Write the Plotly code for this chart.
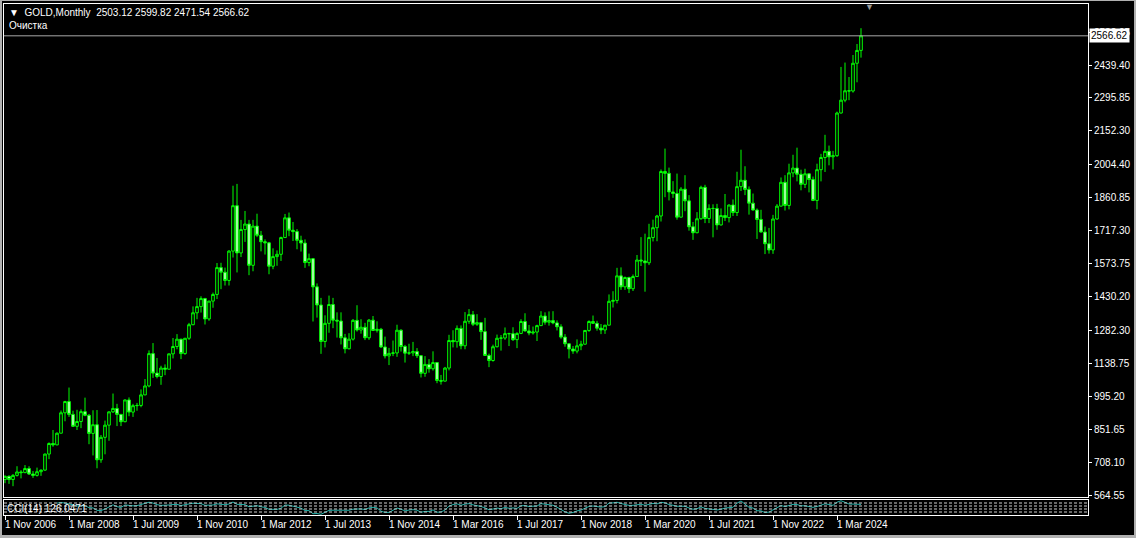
import pandas as pd
import numpy as np
import plotly.graph_objects as go

# ---------------- data (GOLD, Monthly, Nov 2006 .. Sep 2024) ----------------
start_month = "2006-11"
end_month = "2024-09"

opens = [632, 646,
 632, 650, 665, 662, 680, 656, 650, 666, 673, 743, 789, 783,
 834, 923, 972, 916, 864, 885, 928, 912, 833, 871, 718, 816,
 869, 927, 942, 916, 884, 979, 926, 954, 955, 1001, 1040, 1181,
 1096, 1081, 1118, 1113, 1180, 1212, 1244, 1181, 1248, 1307, 1359, 1386,
 1421, 1332, 1410, 1439, 1556, 1536, 1500, 1628, 1826, 1620, 1722, 1746,
 1566, 1737, 1697, 1669, 1664, 1562, 1604, 1614, 1687, 1773, 1719, 1713,
 1675, 1663, 1578, 1595, 1472, 1393, 1234, 1313, 1395, 1327, 1323, 1250,
 1202, 1244, 1326, 1284, 1296, 1250, 1327, 1282, 1287, 1210, 1171, 1182,
 1184, 1283, 1212, 1183, 1184, 1190, 1172, 1095, 1134, 1115, 1142, 1064,
 1061, 1118, 1238, 1233, 1291, 1215, 1322, 1351, 1309, 1316, 1277, 1173,
 1151, 1211, 1248, 1249, 1268, 1268, 1242, 1269, 1321, 1280, 1271, 1275,
 1303, 1345, 1318, 1325, 1315, 1298, 1253, 1224, 1201, 1192, 1215, 1222,
 1282, 1321, 1313, 1292, 1284, 1305, 1409, 1413, 1520, 1472, 1513, 1464,
 1517, 1589, 1585, 1577, 1687, 1730, 1781, 1975, 1967, 1886, 1879, 1776,
 1898, 1847, 1734, 1708, 1769, 1906, 1770, 1814, 1814, 1742, 1783, 1774,
 1829, 1796, 1909, 1937, 1897, 1837, 1807, 1766, 1711, 1660, 1633, 1768,
 1824, 1928, 1827, 1969, 1990, 1963, 1919, 1965, 1940, 1849, 1983, 2036,
 2063, 2039, 2044, 2230, 2286, 2327, 2326, 2447, 2503.12]

highs = [650, 650,
 656, 690, 673, 695, 690, 669, 684, 676, 745, 794, 848, 837,
 933, 975, 1033, 932, 936, 938, 989, 918, 934, 935, 826, 889,
 929, 1007, 962, 917, 981, 990, 962, 966, 1025, 1070, 1195, 1227,
 1162, 1128, 1134, 1181, 1249, 1266, 1245, 1249, 1315, 1387, 1424, 1431,
 1424, 1411, 1447, 1576, 1577, 1556, 1632, 1913, 1921, 1764, 1803, 1764,
 1764, 1791, 1716, 1679, 1668, 1640, 1631, 1691, 1790, 1796, 1755, 1724,
 1695, 1679, 1617, 1598, 1487, 1424, 1348, 1434, 1424, 1361, 1361, 1267,
 1270, 1332, 1392, 1331, 1315, 1332, 1345, 1322, 1293, 1255, 1206, 1238,
 1307, 1287, 1219, 1224, 1232, 1205, 1174, 1170, 1157, 1191, 1143, 1088,
 1123, 1263, 1283, 1304, 1304, 1362, 1375, 1367, 1353, 1318, 1337, 1181,
 1220, 1264, 1262, 1295, 1272, 1296, 1274, 1331, 1357, 1306, 1299, 1307,
 1366, 1361, 1365, 1366, 1326, 1309, 1266, 1225, 1214, 1243, 1237, 1284,
 1326, 1347, 1324, 1310, 1306, 1439, 1453, 1555, 1557, 1517, 1516, 1526,
 1611, 1689, 1704, 1747, 1765, 1786, 1984, 2075, 1992, 1933, 1966, 1907,
 1959, 1872, 1755, 1798, 1913, 1917, 1832, 1832, 1834, 1814, 1877, 1831,
 1853, 1974, 2070, 1998, 1910, 1879, 1814, 1808, 1735, 1729, 1786, 1833,
 1949, 1959, 2009, 2048, 2079, 1983, 1987, 1966, 1953, 2009, 2052, 2135,
 2088, 2065, 2236, 2431, 2450, 2387, 2483, 2531, 2599.82]

lows = [616, 613,
 603, 645, 637, 660, 652, 639, 645, 648, 670, 721, 775, 782,
 834, 886, 905, 862, 848, 856, 908, 786, 737, 681, 705, 742,
 801, 922, 865, 865, 882, 908, 905, 932, 947, 1000, 1034, 1075,
 1073, 1045, 1087, 1113, 1160, 1200, 1157, 1176, 1241, 1305, 1331, 1360,
 1308, 1324, 1381, 1419, 1462, 1478, 1478, 1600, 1535, 1602, 1668, 1523,
 1540, 1689, 1627, 1613, 1527, 1549, 1564, 1585, 1686, 1693, 1672, 1636,
 1626, 1555, 1562, 1321, 1338, 1180, 1208, 1272, 1292, 1251, 1221, 1182,
 1200, 1238, 1277, 1268, 1240, 1241, 1281, 1273, 1206, 1160, 1131, 1170,
 1167, 1190, 1142, 1175, 1170, 1162, 1077, 1080, 1098, 1107, 1052, 1046,
 1060, 1108, 1208, 1207, 1200, 1200, 1311, 1301, 1302, 1241, 1171, 1122,
 1146, 1208, 1194, 1241, 1214, 1236, 1205, 1266, 1277, 1261, 1264, 1236,
 1302, 1307, 1303, 1309, 1282, 1246, 1211, 1160, 1180, 1182, 1196, 1221,
 1276, 1310, 1281, 1266, 1267, 1305, 1382, 1400, 1459, 1459, 1445, 1454,
 1517, 1563, 1451, 1567, 1670, 1671, 1757, 1863, 1849, 1860, 1765, 1775,
 1802, 1717, 1677, 1706, 1765, 1750, 1750, 1688, 1721, 1740, 1759, 1753,
 1781, 1781, 1890, 1872, 1787, 1805, 1681, 1709, 1615, 1617, 1616, 1765,
 1823, 1805, 1810, 1950, 1932, 1893, 1903, 1884, 1846, 1810, 1932, 1973,
 2002, 1984, 2039, 2228, 2277, 2286, 2319, 2364, 2471.54]

closes = [646, 632,
 650, 665, 662, 680, 656, 650, 666, 673, 743, 789, 783, 834,
 923, 972, 916, 864, 885, 928, 912, 833, 871, 718, 816, 869,
 927, 942, 916, 884, 979, 926, 954, 955, 1001, 1040, 1181, 1096,
 1081, 1118, 1113, 1180, 1212, 1244, 1181, 1248, 1307, 1359, 1386, 1421,
 1332, 1410, 1439, 1556, 1536, 1500, 1628, 1826, 1620, 1722, 1746, 1566,
 1737, 1697, 1669, 1664, 1562, 1604, 1614, 1687, 1773, 1719, 1713, 1675,
 1663, 1578, 1595, 1472, 1393, 1234, 1313, 1395, 1327, 1323, 1250, 1202,
 1244, 1326, 1284, 1296, 1250, 1327, 1282, 1287, 1210, 1171, 1182, 1184,
 1283, 1212, 1183, 1184, 1190, 1172, 1095, 1134, 1115, 1142, 1064, 1061,
 1118, 1238, 1233, 1291, 1215, 1322, 1351, 1309, 1316, 1277, 1173, 1151,
 1211, 1248, 1249, 1268, 1268, 1242, 1269, 1321, 1280, 1271, 1275, 1303,
 1345, 1318, 1325, 1315, 1298, 1253, 1224, 1201, 1192, 1215, 1222, 1282,
 1321, 1313, 1292, 1284, 1305, 1409, 1413, 1520, 1472, 1513, 1464, 1517,
 1589, 1585, 1577, 1687, 1730, 1781, 1975, 1967, 1886, 1879, 1776, 1898,
 1847, 1734, 1708, 1769, 1906, 1770, 1814, 1814, 1742, 1783, 1774, 1829,
 1796, 1909, 1937, 1897, 1837, 1807, 1766, 1711, 1660, 1633, 1768, 1824,
 1928, 1827, 1969, 1990, 1963, 1919, 1965, 1940, 1849, 1983, 2036, 2063,
 2039, 2044, 2230, 2286, 2327, 2326, 2447, 2503, 2566.62]

date_tick_labels = ["1 Nov 2006", "1 Mar 2008", "1 Jul 2009", "1 Nov 2010",
                    "1 Mar 2012", "1 Jul 2013", "1 Nov 2014", "1 Mar 2016",
                    "1 Jul 2017", "1 Nov 2018", "1 Mar 2020", "1 Jul 2021",
                    "1 Nov 2022", "1 Mar 2024"]

price_tick_values = [564.55, 708.10, 851.65, 995.20, 1138.75, 1282.30, 1430.20,
                     1573.75, 1717.30, 1860.85, 2004.40, 2152.30, 2295.85,
                     2439.40, 2582.95]

header_text = "▼\u00a0\u00a0GOLD,Monthly\u00a0\u00a02503.12 2599.82 2471.54 2566.62"
sub_header = "Очистка"
cci_label = "CCI(14) 126.0471"
current_price = 2566.62

# ---------------- derived ----------------
months = pd.period_range(start_month, end_month, freq="M")
idx = np.arange(len(months))
month_key = [m.strftime("%b %Y") for m in months]
tick_idx = [month_key.index(t[2:]) for t in date_tick_labels]

df = pd.DataFrame({"o": opens, "h": highs, "l": lows, "c": closes})
tp = (df.h + df.l + df.c) / 3.0
n = 14
sma = tp.rolling(n).mean()
md = tp.rolling(n).apply(lambda w: np.mean(np.abs(w - w.mean())), raw=True)
cci = (tp - sma) / (0.015 * md)

# ---------------- geometry ----------------
W, H = 1136, 538
ML, MR, MT, MB = 4, 48, 4, 23
plot_h = H - MT - MB   # 511


def fx(px):
    return (px - ML) / (W - ML - MR)


def fy(py):
    return (H - MB - py) / plot_h


main_bottom = fy(497)
cci_top = fy(500)

GREEN = "#00ff00"

fig = go.Figure()
fig.add_trace(go.Candlestick(
    x=idx, open=df.o, high=df.h, low=df.l, close=df.c,
    increasing=dict(line=dict(color=GREEN, width=1), fillcolor="#000000"),
    decreasing=dict(line=dict(color=GREEN, width=1), fillcolor="#c4ffc4"),
    whiskerwidth=0, hoverinfo="skip", showlegend=False,
    xaxis="x", yaxis="y"))

fig.add_trace(go.Scatter(
    x=idx, y=cci, mode="lines", line=dict(color="#20b2aa", width=1),
    hoverinfo="skip", showlegend=False, xaxis="x2", yaxis="y2"))

x_range = [-0.25, -0.25 + (W - ML - MR) / 4.0]
px_per_price = (2439.40 - 564.55) / (495 - 65)
y_lo = 564.55 - (497 - 495) * px_per_price
y_hi = 564.55 + (495 - 4) * px_per_price

font = "Liberation Sans, Arial, sans-serif"

fig.update_layout(
    width=W, height=H,
    margin=dict(l=ML, r=MR, t=MT, b=MB, pad=0),
    paper_bgcolor="#000000", plot_bgcolor="#000000",
    font=dict(family=font, size=10, color="#ffffff"),
    showlegend=False,
    boxgap=0.35, boxgroupgap=0.0,
    xaxis=dict(domain=[0, 1], range=x_range, anchor="y",
               showgrid=False, zeroline=False, showticklabels=False,
               showline=True, linecolor="#ffffff", linewidth=1, mirror=True,
               ticks="", rangeslider=dict(visible=False), fixedrange=True),
    yaxis=dict(domain=[main_bottom, 1], range=[y_lo, y_hi], anchor="x",
               side="right", showgrid=False, zeroline=False,
               showline=True, linecolor="#ffffff", linewidth=1, mirror=True,
               tickmode="array", tickvals=price_tick_values,
               ticktext=[f"{v:.2f}" for v in price_tick_values],
               ticks="outside", ticklen=3, tickcolor="#ffffff", tickwidth=1,
               tickfont=dict(family=font, size=10, color="#ffffff"),
               fixedrange=True),
    xaxis2=dict(domain=[0, 1], range=x_range, anchor="y2", matches="x",
                showgrid=False, zeroline=False, showticklabels=False,
                showline=True, linecolor="#ffffff", linewidth=1, mirror=True,
                tickmode="array", tickvals=tick_idx,
                ticks="outside", ticklen=4, tickcolor="#ffffff", tickwidth=1,
                fixedrange=True),
    yaxis2=dict(domain=[0, cci_top], anchor="x2", side="right",
                autorange=True, showgrid=False, zeroline=False,
                showticklabels=False, showline=True, linecolor="#ffffff",
                linewidth=1, mirror=True, ticks="", fixedrange=True),
)

shapes = []
# dashed level lines inside the CCI window
for f in [0.2, 0.4, 0.6, 0.8]:
    shapes.append(dict(type="line", xref="paper", yref="y2 domain",
                       x0=0, x1=1, y0=f, y1=f,
                       line=dict(color="#d0d0d0", width=1, dash="3px,2px")))
# current price line
shapes.append(dict(type="line", xref="paper", yref="y", x0=0, x1=1,
                   y0=current_price, y1=current_price,
                   line=dict(color="#a8a8a8", width=1)))
# outer window frame (grey)
frame_col = "#b0b0b0"
shapes.append(dict(type="rect", xref="paper", yref="paper",
                   x0=fx(0), x1=fx(2), y0=fy(538), y1=fy(0),
                   fillcolor=frame_col, line=dict(width=0)))
shapes.append(dict(type="rect", xref="paper", yref="paper",
                   x0=fx(0), x1=fx(1136), y0=fy(538), y1=fy(535),
                   fillcolor=frame_col, line=dict(width=0)))
shapes.append(dict(type="rect", xref="paper", yref="paper",
                   x0=fx(1134), x1=fx(1136), y0=fy(538), y1=fy(0),
                   fillcolor=frame_col, line=dict(width=0)))
shapes.append(dict(type="rect", xref="paper", yref="paper",
                   x0=fx(0), x1=fx(1136), y0=fy(1), y1=fy(0),
                   fillcolor=frame_col, line=dict(width=0)))
fig.update_layout(shapes=shapes)

annotations = []
# date labels, left-aligned at the tick
for t, lab in zip(tick_idx, date_tick_labels):
    annotations.append(dict(x=t, xref="x2", y=fy(524), yref="paper",
                            text=lab, showarrow=False, xanchor="left",
                            yanchor="middle", xshift=-2,
                            font=dict(family=font, size=10, color="#ffffff")))
# current price box
annotations.append(dict(x=1, xref="paper", y=current_price, yref="y",
                        text=f"{current_price:.2f}", showarrow=False,
                        xanchor="left", yanchor="middle", xshift=1,
                        bgcolor="#ffffff", borderpad=1,
                        font=dict(family=font, size=10, color="#000000")))
# header
annotations.append(dict(x=fx(7), xref="paper", y=fy(12), yref="paper",
                        text=header_text, showarrow=False, xanchor="left",
                        yanchor="middle",
                        font=dict(family=font, size=10, color="#ffffff")))
annotations.append(dict(x=fx(7), xref="paper", y=fy(25), yref="paper",
                        text=sub_header, showarrow=False, xanchor="left",
                        yanchor="middle",
                        font=dict(family=font, size=10, color="#ffffff")))
# CCI label
annotations.append(dict(x=fx(5), xref="paper", y=fy(508), yref="paper",
                        text=cci_label, showarrow=False, xanchor="left",
                        yanchor="middle",
                        font=dict(family=font, size=10, color="#ffffff")))
# chart shift marker
annotations.append(dict(x=fx(869), xref="paper", y=fy(7), yref="paper",
                        text="▼", showarrow=False, xanchor="center",
                        yanchor="middle",
                        font=dict(family=font, size=9, color="#9a9a9a")))
fig.update_layout(annotations=annotations)

fig.write_html("out.html",
               config={"displayModeBar": False, "staticPlot": True},
               post_script="document.body.style.margin='0px';"
                           "document.body.style.background='#000000';")
